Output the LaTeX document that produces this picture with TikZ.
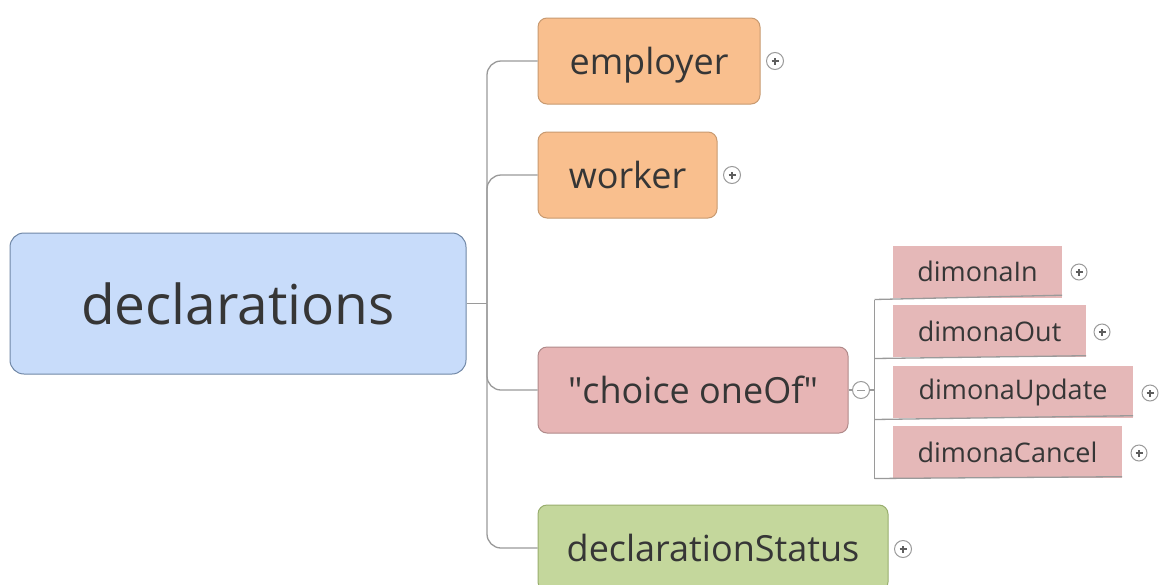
\documentclass[tikz,border=0pt]{standalone}
\usepackage{fontspec}
\setmainfont{Open Sans}
\newfontfamily\qfont{Open Sans}
\definecolor{rootfill}{HTML}{C8DCFA}
\definecolor{rootdraw}{HTML}{7087A6}
\definecolor{orfill}{HTML}{F9BF8E}
\definecolor{ordraw}{HTML}{C89A70}
\definecolor{pkfill}{HTML}{E7B5B5}
\definecolor{pkdraw}{HTML}{B08A8A}
\definecolor{subfill}{HTML}{E5B8B8}
\definecolor{grfill}{HTML}{C4D79C}
\definecolor{grdraw}{HTML}{99AE6E}
\definecolor{txt}{HTML}{363636}
\definecolor{conn}{HTML}{9A9A9A}
\begin{document}
\begin{tikzpicture}[x=1pt,y=-1pt,
  box/.style={rounded corners=9pt, line width=1pt, inner sep=0pt, text=txt, align=center},
  rootbox/.style={box, fill=rootfill, draw=rootdraw, minimum width=456pt, minimum height=141pt, rounded corners=14pt, font=\fontsize{55}{60}\selectfont},
  midbox/.style={box, minimum height=86pt, text height=27pt, text depth=0pt, font=\fontsize{36}{42}\selectfont},
  orbox/.style={midbox, fill=orfill, draw=ordraw},
  pkbox/.style={midbox, fill=pkfill, draw=pkdraw},
  grbox/.style={midbox, fill=grfill, draw=grdraw},
  subbox/.style={inner sep=0pt, fill=subfill, text=txt, minimum height=52pt, font=\fontsize{27}{32}\selectfont},
  link/.style={draw=conn, line width=1.3pt},
  toggle/.style={circle, draw=conn, fill=white, line width=1pt, minimum size=15pt, inner sep=0pt},
]
\clip (0,0) rectangle (1161,584);
\fill[white] (0,0) rectangle (1161,584);

% nodes
\node[rootbox] (root) at (238,303.5) {declarations};
\node[orbox, minimum width=222pt] (emp) at (649,61) {employer};
\node[orbox, minimum width=179pt] (wrk) at (627.5,175) {worker};
\node[pkbox, minimum width=310pt] (cho) at (693,390) {{\qfont"}choice oneOf{\qfont"}};
\node[grbox, minimum width=350pt] (sta) at (713,548) {declarationStatus};

\node[subbox, minimum width=169pt] (din) at (977.5,271.5) {dimonaIn};
\node[subbox, minimum width=193pt] (dout) at (989.5,331) {dimonaOut};
\node[subbox, minimum width=240pt] (dupd) at (1013,392) {dimonaUpdate};
\node[subbox, minimum width=229pt] (dcan) at (1007.5,452) {dimonaCancel};

% trunk
\coordinate (hub) at (487,303.5);
\draw[link] (root.east) -- (hub);
\draw[link, rounded corners=14pt] (hub) |- (emp.west);
\draw[link, rounded corners=14pt] (hub) |- (wrk.west);
\draw[link, rounded corners=14pt] (hub) |- (cho.west);
\draw[link, rounded corners=14pt] (hub) |- (sta.west);

% choice toggle and sub-branches
\node[toggle, minimum size=17pt] (mn) at (861,390) {};
\draw[conn, line width=1pt] ([xshift=-4pt]mn.center) -- ([xshift=4pt]mn.center);
\draw[link] (cho.east) -- (mn.west);
\coordinate (sb) at (874.5,390);
\draw[link] (mn.east) -- (sb);
\coordinate (ut) at (874.5,299.5);
\coordinate (ub) at (874.5,478.5);
\draw[link] (ut) -- (ub);
\draw[link] (ut) -- ([yshift=2.5pt]din.south east);
\draw[link] (874.5,358.5) -- ([yshift=1.5pt]dout.south east);
\draw[link] (874.5,419.5) -- ([yshift=2.5pt]dupd.south east);
\draw[link] (ub) -- ([yshift=1.5pt]dcan.south east);

% plus toggles
\foreach \n/\x/\y/\s in {pe/775/61/17, pw/732/175/17, ps/903/549/17, p1/1079/272/16, p2/1102/332/16, p3/1150/393/16, p4/1139/453/16}{
  \node[toggle, minimum size=\s pt] (\n) at (\x,\y) {};
  \draw[txt!80, line width=1.1pt] ([xshift=-3.5pt]\n.center) -- ([xshift=3.5pt]\n.center);
  \draw[txt!80, line width=1.1pt] ([yshift=-3.5pt]\n.center) -- ([yshift=3.5pt]\n.center);
}
\end{tikzpicture}
\end{document}
